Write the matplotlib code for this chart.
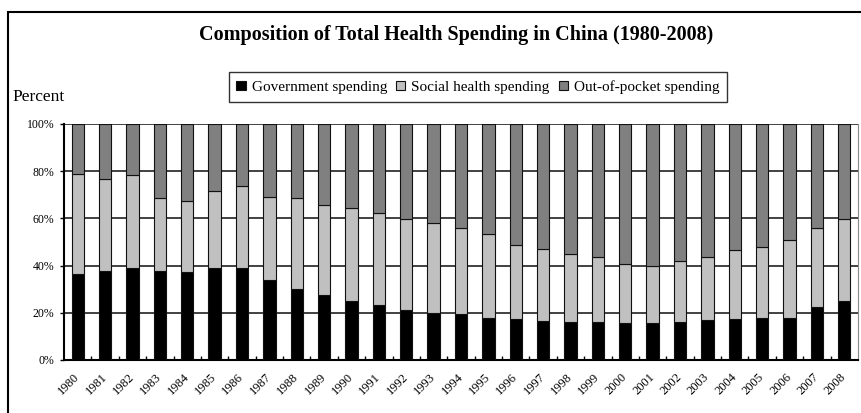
import matplotlib.pyplot as plt
import numpy as np
from matplotlib.patches import Rectangle

# Shares of total health spending (%), 1980-2008
years = [str(y) for y in range(1980, 2009)]
gov_share = [36.5, 37.7, 39.1, 37.7, 37.2, 39.1, 39.1, 33.9, 30.1, 27.5,
             25.0, 23.1, 21.1, 19.9, 19.3, 17.9, 17.3, 16.6, 16.0, 15.9,
             15.5, 15.7, 15.9, 17.0, 17.3, 17.9, 17.9, 22.3, 24.8]
gov_plus_social = [79.0, 76.5, 78.3, 68.8, 67.5, 71.4, 73.9, 69.2, 68.8, 65.5,
                   64.3, 62.3, 59.7, 57.9, 55.9, 53.3, 48.9, 47.1, 45.1, 43.8,
                   40.6, 39.9, 41.8, 43.8, 46.4, 47.7, 50.9, 55.9, 59.6]
social_share = [round(t - g, 1) for t, g in zip(gov_plus_social, gov_share)]
oop_share = [round(100 - t, 1) for t in gov_plus_social]

series_names = ['Government spending', 'Social health spending', 'Out-of-pocket spending']
series_colors = ['#000000', '#c0c0c0', '#808080']

plt.rcParams['font.family'] = ['Liberation Serif', 'DejaVu Serif']

fig = plt.figure(figsize=(8.61, 4.13), dpi=100)
W, H = 861, 413
ax = fig.add_axes([64 / W, 1 - 360 / H, (858 - 64) / W, (360 - 124) / H])

x = np.arange(len(years))
bottom = np.zeros(len(years))
for vals, name, col in zip([gov_share, social_share, oop_share], series_names, series_colors):
    ax.bar(x, vals, width=0.45, bottom=bottom, color=col, edgecolor='#111111',
           linewidth=0.8, label=name, zorder=3)
    bottom += np.array(vals)

ax.set_xlim(-0.5, len(years) - 0.5)
ax.set_ylim(0, 100)
ax.set_yticks(np.arange(0, 101, 20))
ax.set_yticklabels([f'{v}%' for v in range(0, 101, 20)], fontsize=8.5)
ax.yaxis.grid(True, color='#333333', linewidth=1.3, zorder=0)
ax.set_axisbelow(True)
ax.tick_params(axis='y', length=3, width=1, pad=4)

# year labels under the bars, tick marks between the categories
ax.set_xticks(x)
ax.set_xticklabels(years, rotation=45, ha='right', va='center',
                   rotation_mode='anchor', fontsize=9)
ax.tick_params(axis='x', length=0, pad=11)
ax.set_xticks(np.arange(0.5, len(years) - 0.5, 1), minor=True)
ax.tick_params(axis='x', which='minor', direction='in', length=3, width=1)

for side in ['left', 'bottom']:
    ax.spines[side].set_linewidth(1.5)
ax.spines['top'].set_visible(False)
ax.spines['right'].set_color('#888888')
ax.spines['right'].set_linewidth(0.8)

fig.text(12 / W, 1 - 97 / H, 'Percent', fontsize=12.5, va='center', ha='left')
fig.text(456 / W, 1 - 35 / H, 'Composition of Total Health Spending in China (1980-2008)',
         fontsize=14.5, fontweight='bold', ha='center', va='center')

leg = fig.legend(loc='center', bbox_to_anchor=(478 / W, 1 - 87 / H), ncol=3,
                 fontsize=11, frameon=True, fancybox=False, handlelength=0.6,
                 handleheight=0.6, handletextpad=0.4, columnspacing=0.6,
                 borderpad=0.5, borderaxespad=0)
leg.get_frame().set_edgecolor('black')
leg.get_frame().set_linewidth(1)

# outer frame around the chart area
fig.patches.append(Rectangle((8 / W, -0.05), 1.0, 1 - 12 / H + 0.05,
                             transform=fig.transFigure, fill=False,
                             edgecolor='black', linewidth=1.5))

fig.savefig('out.png', dpi=100)
